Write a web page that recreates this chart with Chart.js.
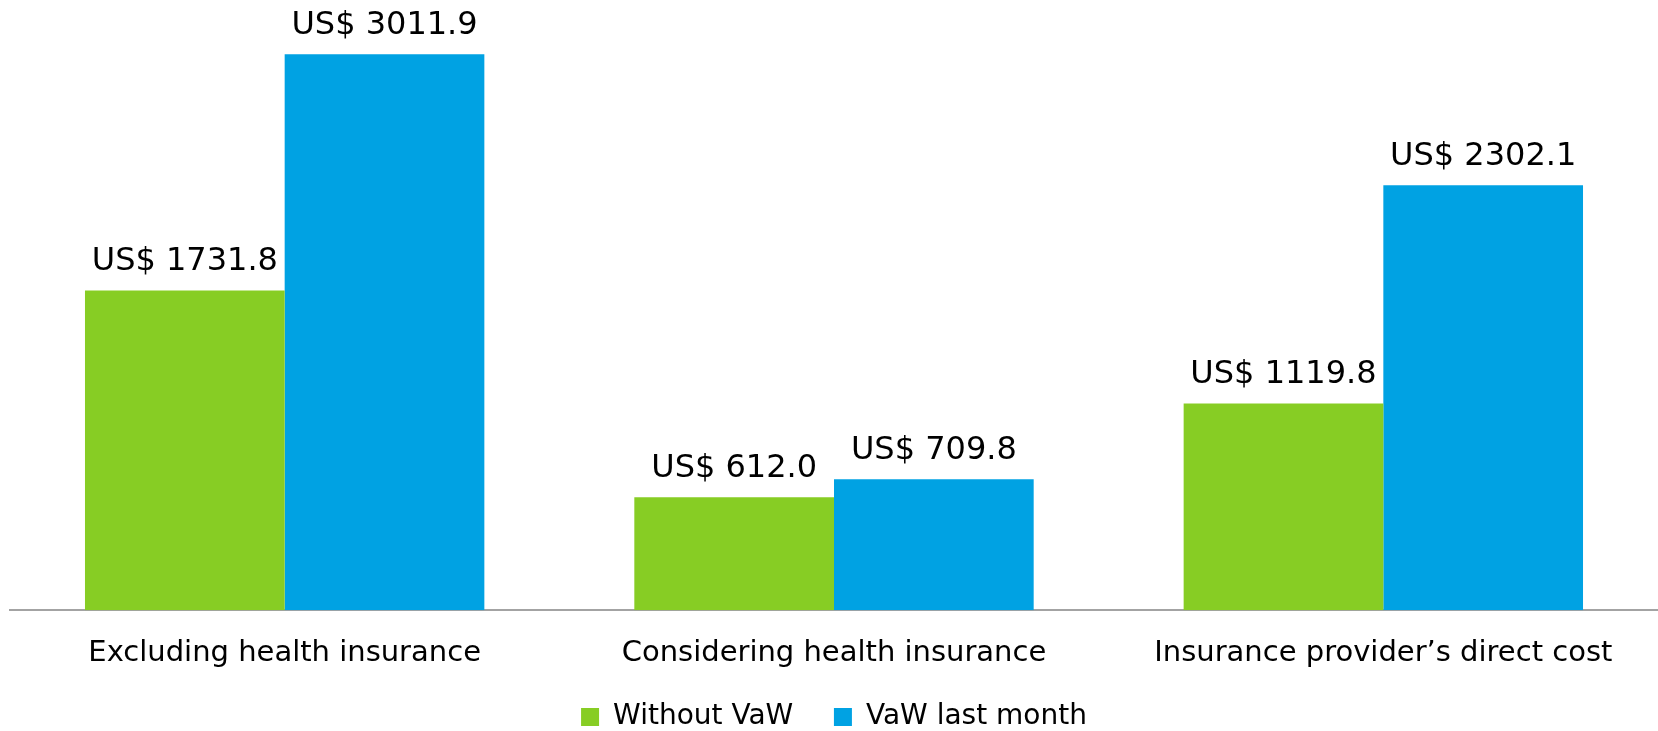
<!DOCTYPE html>
<html>
<head>
<meta charset="utf-8">
<script src="https://cdn.jsdelivr.net/npm/chart.js@4"></script>
<style>
  html,body{margin:0;padding:0;background:#fff;}
  #wrap{width:1658px;height:731px;position:relative;}
</style>
</head>
<body>
<div id="wrap"><canvas id="costChart"></canvas></div>
<script>
// categorías y series (valores en US$)
const categories = ['Excluding health insurance', 'Considering health insurance', 'Insurance provider\u2019s direct cost'];
const withoutVaw = [1731.8, 612.0, 1119.8];
const vawLastMonth = [3011.9, 709.8, 2302.1];
const seriesNames = ['Without VaW', 'VaW last month'];

const FONT = "'DejaVu Sans', sans-serif";

// etiquetas "US$ xxx" encima de cada barra
const valueLabels = {
  id:'valueLabels',
  afterDatasetsDraw(chart){
    const ctx = chart.ctx;
    ctx.save();
    ctx.font = `32px ${FONT}`;
    ctx.fillStyle = '#000';
    ctx.textAlign = 'center';
    ctx.textBaseline = 'alphabetic';
    chart.data.datasets.forEach((ds,i)=>{
      chart.getDatasetMeta(i).data.forEach((bar,j)=>{
        ctx.fillText('US$ '+ds.data[j].toFixed(1), bar.x, bar.y-20);
      });
    });
    ctx.restore();
  }
};

new Chart(document.getElementById('costChart').getContext('2d'),{
  type:'bar',
  data:{
    labels:categories,
    datasets:[
      {label:seriesNames[0], data:withoutVaw, backgroundColor:'#87cd24', categoryPercentage:0.727, barPercentage:1.0},
      {label:seriesNames[1], data:vawLastMonth, backgroundColor:'#00a2e3', categoryPercentage:0.727, barPercentage:1.0}
    ]
  },
  options:{
    responsive:true, maintainAspectRatio:false, animation:false,
    layout:{padding:{left:10, right:0, top:1, bottom:-10}},
    plugins:{
      legend:{position:'bottom',
        labels:{color:'#000', boxWidth:18, boxHeight:18, padding:14, font:{family:FONT,size:28},
          // más separación horizontal entre entradas sin agrandar la leyenda en vertical
          generateLabels(chart){
            const items = Chart.defaults.plugins.legend.labels.generateLabels(chart);
            items.forEach((it,i)=>{ if(i<items.length-1) it.text += '   '; });
            return items;
          }}},
      tooltip:{enabled:false}
    },
    scales:{
      x:{grid:{display:false}, border:{display:true,color:'#a3a3a3',width:2},
        ticks:{color:'#000', padding:18, font:{family:FONT,size:29}}},
      y:{display:false, min:0, max:3300}
    }
  },
  plugins:[valueLabels]
});
</script>
</body>
</html>
